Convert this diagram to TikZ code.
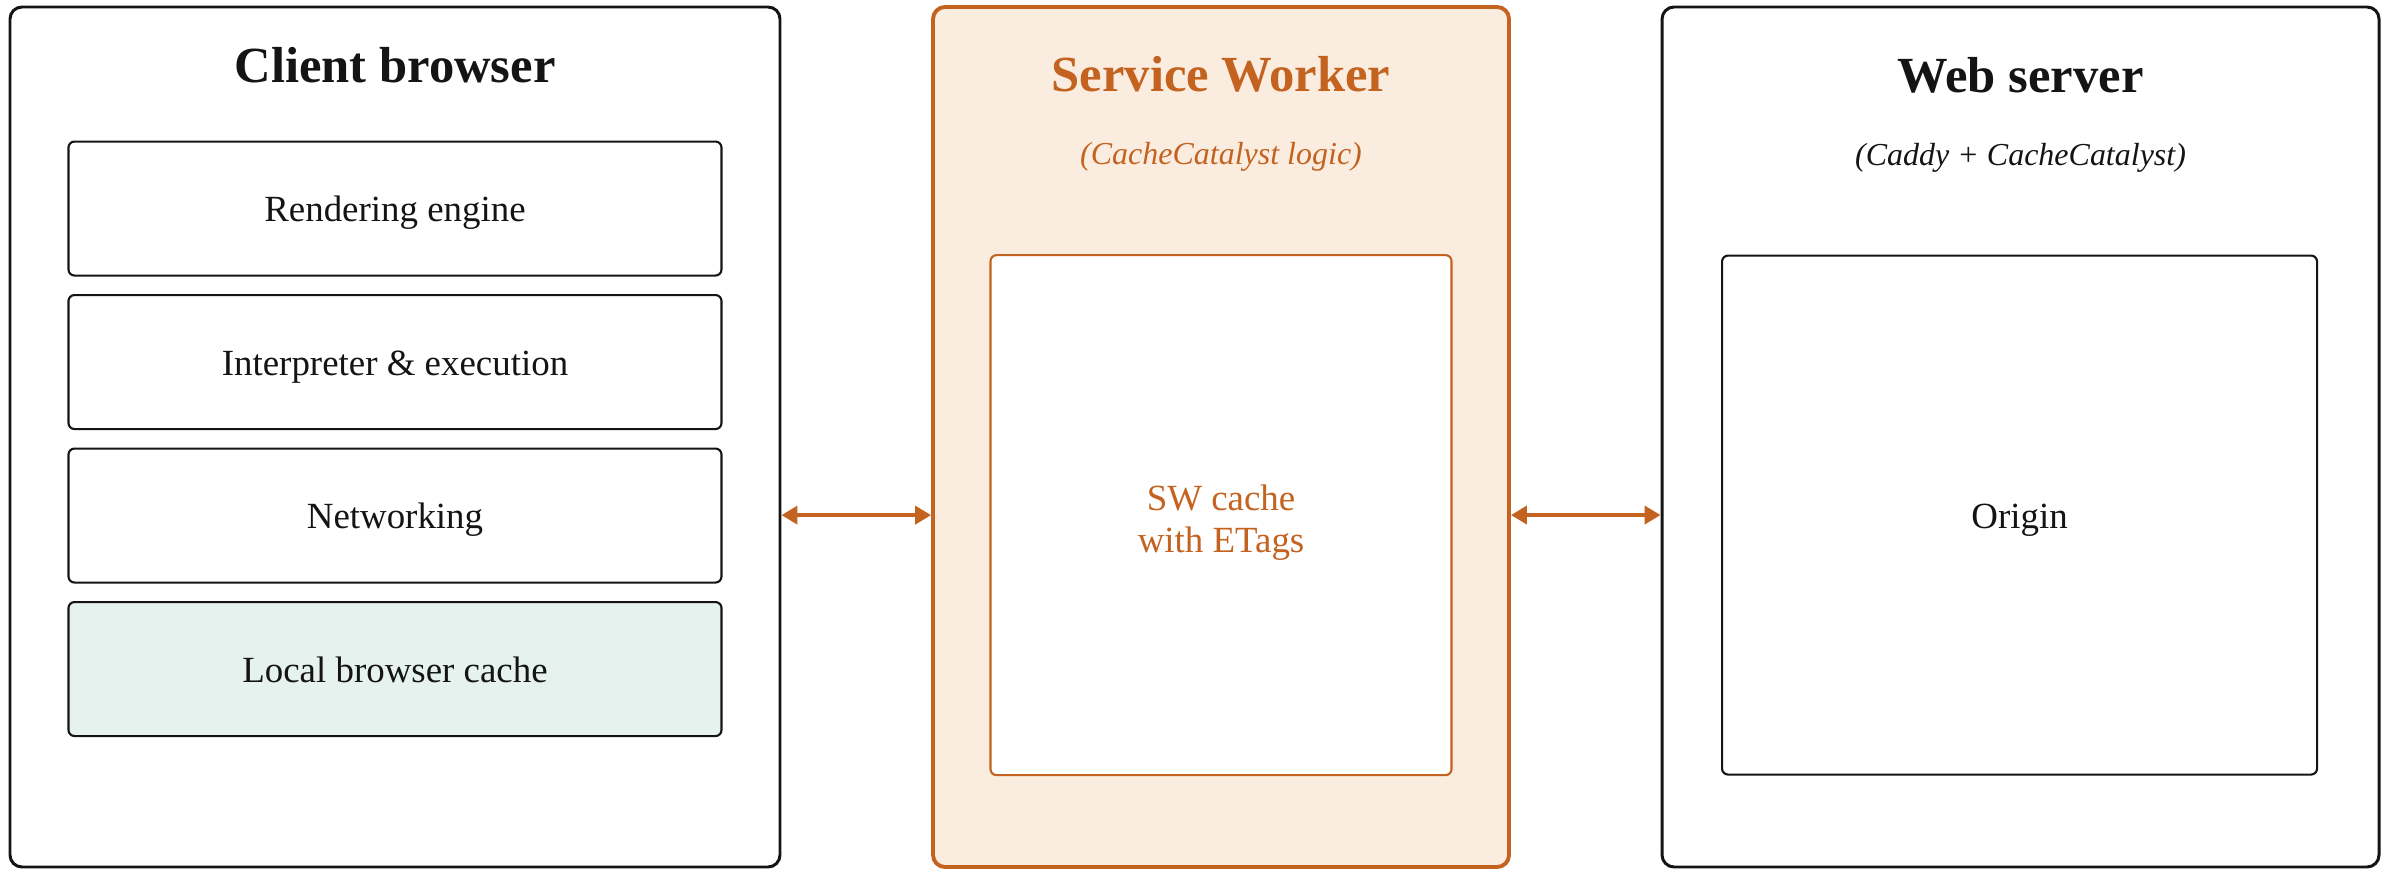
\documentclass[tikz,border=0pt]{standalone}
\usepackage{fontspec}
\setmainfont{Liberation Serif}
\usepackage{tikz}
\usepackage{xcolor}
\usetikzlibrary{arrows, arrows.meta, positioning}
\definecolor{swcolor}{RGB}{196,98,32}
\definecolor{swfill}{RGB}{250,237,224}
\definecolor{cachefill}{RGB}{230,242,238}
\definecolor{ink}{RGB}{20,20,20}
\tikzstyle{tier} = [rectangle, rounded corners=0.12cm, minimum width=7.7cm, minimum height=8.6cm, draw=ink, line width=0.85pt]
\tikzstyle{swtier} = [tier, draw=swcolor, fill=swfill, line width=1.1pt, minimum width=5.76cm]
\tikzstyle{component} = [rectangle, rounded corners=0.06cm, minimum width=6.53cm, minimum height=1.34cm, text centered, text height=9.8pt, text depth=2.3pt, draw=ink, line width=0.6pt, fill=white, text=ink]
\tikzstyle{tiertitle} = [font={\fontsize{14.4pt}{17}\selectfont\bfseries}, text=ink]
\tikzstyle{subtitle} = [font={\fontsize{9.1pt}{11}\selectfont\itshape}, text=ink]
\tikzstyle{arrow} = [line width=1.1pt, draw=swcolor, {Triangle[length=0.16cm, width=0.18cm]}-{Triangle[length=0.16cm, width=0.18cm]}]
\tikzset{
  font={\fontsize{10.5pt}{11.7pt}\selectfont}}

\begin{document}
\begin{tikzpicture}[node distance = 1.535cm]
    \useasboundingbox (0,0) rectangle (23.89,-8.69);

    % the three tiers
    \node (client) [tier] at (3.95,-4.37) {};
    \node (sw) [swtier, right=1.496cm of client] {};
    \node (web) [tier, right=1.496cm of sw, minimum width=7.17cm] {};

    % browser internals
    \node (render) [component, below=1.35cm of client.north] {Rendering engine};
    \node (interp) [component, below of=render] {Interpreter \& execution};
    \node (net) [component, below of=interp] {Networking};
    \node (localcache) [component, below of=net, fill=cachefill] {Local browser cache};

    % caches on the worker and the server
    \node (swcache) [component, below=2.49cm of sw.north, minimum width=4.61cm, minimum height=5.2cm, text height=23.3pt, text depth=2.3pt, draw=swcolor, text=swcolor, align=center] {SW cache\\with ETags};
    \node (origin) [component, below=2.49cm of web.north, minimum width=5.95cm, minimum height=5.19cm, xshift=-0.01cm] {Origin};

    % headings
    \node (clienttitle) [tiertitle, below=0.765cm of client.north, anchor=base] {Client browser};
    \node (swtitle) [tiertitle, below=0.865cm of sw.north, anchor=base, text=swcolor] {Service Worker};
    \node (swsub) [subtitle, below=1.595cm of sw.north, anchor=base, text=swcolor] {(CacheCatalyst logic)};
    \node (webtitle) [tiertitle, below=0.865cm of web.north, anchor=base] {Web server};
    \node (websub) [subtitle, below=1.595cm of web.north, anchor=base] {(Caddy + CacheCatalyst)};

    \draw [arrow] (client.east |- swcache) -- (sw.west |- swcache);
    \draw [arrow] (sw.east |- origin) -- (web.west |- origin);
\end{tikzpicture}
\end{document}
